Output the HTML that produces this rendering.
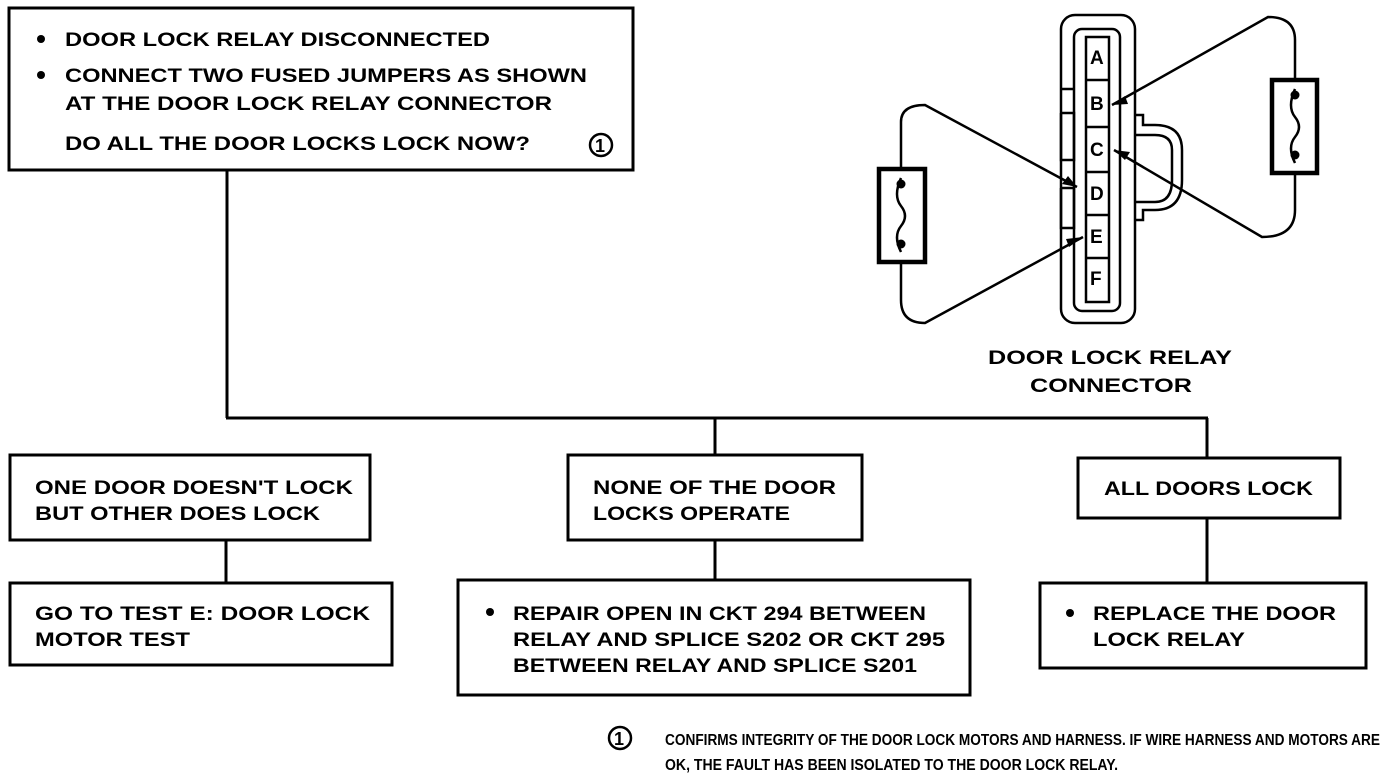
<!DOCTYPE html>
<html><head><meta charset="utf-8"><style>
html,body{margin:0;padding:0;background:#fff}
svg{display:block}
text{font-family:"Liberation Sans",sans-serif;font-weight:bold;font-size:19px;fill:#000}
</style></head><body>
<svg width="1392" height="778" viewBox="0 0 1392 778" xmlns="http://www.w3.org/2000/svg">
<g fill="none" stroke="#000" stroke-width="3">
<rect x="9" y="8" width="624" height="162"/>
<path d="M227 170V418M226 418H1208M715 418V455M1207 418V458"/>
<rect x="10" y="455" width="360" height="85"/>
<rect x="568" y="455" width="294" height="85"/>
<rect x="1078" y="458" width="262" height="60"/>
<path d="M226 540V583M715 540V580M1207 518V583"/>
<rect x="10" y="583" width="382" height="82"/>
<rect x="458" y="580" width="512" height="115"/>
<rect x="1040" y="583" width="326" height="85"/>
</g>
<!-- connector -->
<g fill="none" stroke="#000" stroke-width="2.5">
<rect x="1061" y="15" width="74" height="308" rx="14"/>
<rect x="1074" y="29" width="46" height="282" rx="8"/>
<rect x="1086" y="37" width="23" height="265"/>
<path d="M1086 80H1109M1086 127H1109M1086 172H1109M1086 215H1109M1086 258H1109"/>
<path d="M1061 89H1074M1061 113H1074V160H1061V113M1061 188H1074V228H1061V188"/>
<path d="M1135 115H1143V125H1155Q1182 125 1182 150V180Q1182 210 1155 210H1143V220H1135"/>
<path d="M1135 135H1155Q1172 135 1172 150V180Q1172 202 1155 202H1135"/>
<rect x="879" y="169" width="46" height="93" stroke-width="4.5"/>
<rect x="1272" y="80" width="45" height="93" stroke-width="4.5"/>
<path d="M901 178Q893 196 901 206Q909 216 901 226Q893 236 901 252"/>
<path d="M1295 89Q1287 107 1295 117Q1303 127 1295 137Q1287 147 1295 163"/>
<path d="M901 169V122Q901 105 925 105L1077 187"/>
<path d="M901 262V300Q901 323 925 323L1083 237"/>
<path d="M1295 80V40Q1295 17 1268 17L1112 105"/>
<path d="M1295 173V210Q1295 237 1262 237L1114 150"/>
</g>
<g fill="#000">
<circle cx="901" cy="184" r="4.5"/><circle cx="901" cy="244" r="4.5"/>
<circle cx="1295" cy="95" r="4.5"/><circle cx="1295" cy="155" r="4.5"/>
<path d="M1077 187L1062 184L1068 176Z"/>
<path d="M1083 237L1069 247L1066 239Z"/>
<path d="M1112 105L1125 96L1128 104Z"/>
<path d="M1114 150L1130 152L1125 160Z"/>
</g>
<g style="font-size:17px">
<text x="1090" y="64">A</text><text x="1090" y="110">B</text><text x="1090" y="156">C</text>
<text x="1090" y="200">D</text><text x="1090" y="243">E</text><text x="1090" y="285">F</text>
</g>
<text x="988" y="364" textLength="244" lengthAdjust="spacingAndGlyphs">DOOR LOCK RELAY</text>
<text x="1030" y="392" textLength="162" lengthAdjust="spacingAndGlyphs">CONNECTOR</text>
<g fill="#000"><circle cx="41" cy="39" r="4"/><circle cx="41" cy="75" r="4"/><circle cx="490" cy="612" r="4"/><circle cx="1070" cy="613" r="4"/></g>
<g fill="none" stroke="#000" stroke-width="2.5"><circle cx="601" cy="145" r="11"/><circle cx="620" cy="738" r="11"/></g>
<text x="595" y="152" style="font-size:18px">1</text>
<text x="614" y="745" style="font-size:18px">1</text>
<text x="65" y="46" textLength="425" lengthAdjust="spacingAndGlyphs">DOOR LOCK RELAY DISCONNECTED</text>
<text x="65" y="82" textLength="522" lengthAdjust="spacingAndGlyphs">CONNECT TWO FUSED JUMPERS AS SHOWN</text>
<text x="65" y="110" textLength="487" lengthAdjust="spacingAndGlyphs">AT THE DOOR LOCK RELAY CONNECTOR</text>
<text x="65" y="150" textLength="465" lengthAdjust="spacingAndGlyphs">DO ALL THE DOOR LOCKS LOCK NOW?</text>
<text x="35" y="494" textLength="318" lengthAdjust="spacingAndGlyphs">ONE DOOR DOESN'T LOCK</text>
<text x="35" y="520" textLength="285" lengthAdjust="spacingAndGlyphs">BUT OTHER DOES LOCK</text>
<text x="593" y="494" textLength="243" lengthAdjust="spacingAndGlyphs">NONE OF THE DOOR</text>
<text x="593" y="520" textLength="197" lengthAdjust="spacingAndGlyphs">LOCKS OPERATE</text>
<text x="1104" y="495" textLength="209" lengthAdjust="spacingAndGlyphs">ALL DOORS LOCK</text>
<text x="35" y="620" textLength="335" lengthAdjust="spacingAndGlyphs">GO TO TEST E: DOOR LOCK</text>
<text x="35" y="646" textLength="155" lengthAdjust="spacingAndGlyphs">MOTOR TEST</text>
<text x="513" y="620" textLength="413" lengthAdjust="spacingAndGlyphs">REPAIR OPEN IN CKT 294 BETWEEN</text>
<text x="513" y="646" textLength="432" lengthAdjust="spacingAndGlyphs">RELAY AND SPLICE S202 OR CKT 295</text>
<text x="513" y="672" textLength="404" lengthAdjust="spacingAndGlyphs">BETWEEN RELAY AND SPLICE S201</text>
<text x="1093" y="620" textLength="243" lengthAdjust="spacingAndGlyphs">REPLACE THE DOOR</text>
<text x="1093" y="646" textLength="152" lengthAdjust="spacingAndGlyphs">LOCK RELAY</text>
<text x="665" y="745" textLength="715" lengthAdjust="spacingAndGlyphs" style="font-size:16px">CONFIRMS INTEGRITY OF THE DOOR LOCK MOTORS AND HARNESS. IF WIRE HARNESS AND MOTORS ARE</text>
<text x="665" y="770" textLength="453" lengthAdjust="spacingAndGlyphs" style="font-size:16px">OK, THE FAULT HAS BEEN ISOLATED TO THE DOOR LOCK RELAY.</text>
</svg>
</body></html>
